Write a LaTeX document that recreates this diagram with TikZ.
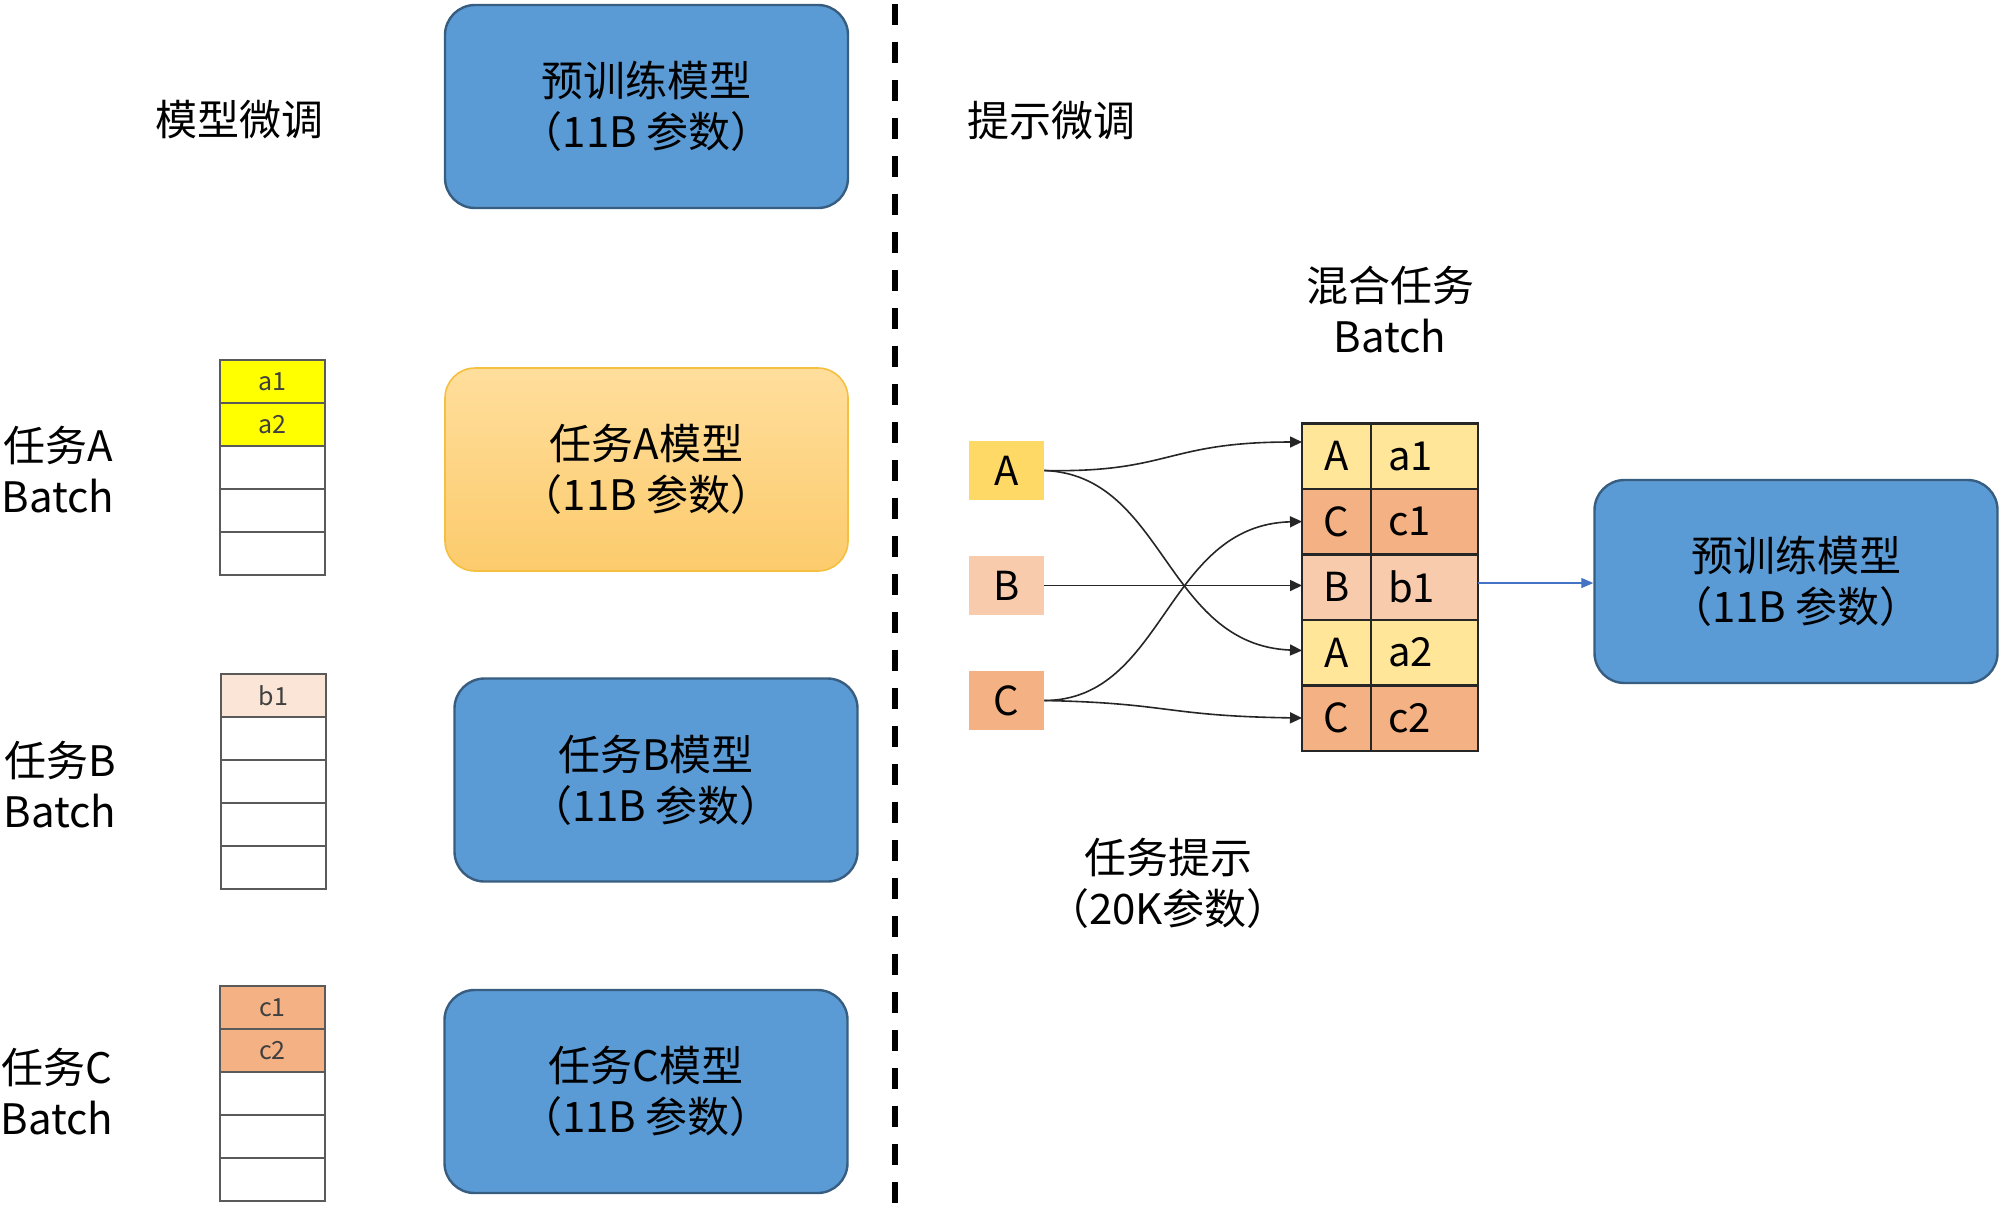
\documentclass[tikz,border=0pt]{standalone}
\usepackage{fontspec}
\setmainfont{Noto Sans CJK SC}
\usetikzlibrary{arrows.meta,calc}
\definecolor{boxblue}{HTML}{5B9BD5}
\definecolor{orgtop}{HTML}{FFDE9C}
\definecolor{orgbot}{HTML}{FCCB6C}
\definecolor{orgedge}{HTML}{F5C040}
\definecolor{cellgray}{HTML}{5A5A5A}
\definecolor{yel}{HTML}{FFFF00}
\definecolor{bpale}{HTML}{FBE5D6}
\definecolor{corange}{HTML}{F4B183}
\definecolor{apgold}{HTML}{FFD966}
\definecolor{bpeach}{HTML}{F8CBAD}
\definecolor{alight}{HTML}{FFE699}
\definecolor{tabedge}{HTML}{262626}
\definecolor{arrblue}{HTML}{4472C4}
\begin{document}
\begin{tikzpicture}[x=0.5pt,y=-0.5pt,
  bigfont/.style={font=\fontsize{21pt}{25.5pt}\selectfont},
  bigbox/.style={rectangle,rounded corners=15pt,minimum width=201.5pt,minimum height=101.5pt,align=center,bigfont,inner sep=0pt},
  bluebox/.style={bigbox,draw=boxblue!60!black,line width=1.2pt,fill=boxblue},
  orangebox/.style={bigbox,draw=orgedge,line width=0.8pt,top color=orgtop,bottom color=orgbot},
  lab/.style={align=center,bigfont,inner sep=0pt},
  cell/.style={rectangle,draw=cellgray,line width=1pt,minimum width=52.5pt,minimum height=21.5pt,inner sep=0pt,text=black!75,font=\fontsize{12.5pt}{14pt}\selectfont},
  pbox/.style={rectangle,minimum width=37.5pt,minimum height=29.5pt,inner sep=0pt,font=\fontsize{20pt}{24pt}\selectfont},
  tl/.style={rectangle,draw=tabedge,line width=1.25pt,outer sep=0pt,minimum width=34.5pt,minimum height=32.75pt,inner sep=0pt,font=\fontsize{20pt}{24pt}\selectfont},
  tr/.style={rectangle,draw=tabedge,line width=1.25pt,outer sep=0pt,text width=36.5pt,inner xsep=8.5pt,inner ysep=0pt,align=left,minimum height=32.75pt,font=\fontsize{20pt}{24pt}\selectfont},
  conn/.style={draw=black!85,line width=0.8pt,-{Triangle[length=6pt,width=5.5pt]}},
  bconn/.style={draw=arrblue,line width=0.6pt,-{Triangle[length=6pt,width=5pt]}}
]
\useasboundingbox (0,0) rectangle (2000,1207);

% dashed separator
\coordinate (dtop) at (895,4);
\coordinate (dbot) at (895,1207);
\draw[line width=3pt,dash pattern=on 10.5pt off 8.5pt] (dtop) -- (dbot);

% headings
\node[lab] (hleft) at (239,120) {模型微调};
\node[lab] (hright) at (1051,121) {提示微调};

% left big boxes
\node[bluebox] (pre1) at (646.5,106.5) {预训练模型\\（11B 参数）};
\node[orangebox] (mA) at (646.5,469.5) {任务A模型\\（11B 参数）};
\node[bluebox] (mB) at (656,780) {任务B模型\\（11B 参数）};
\node[bluebox] (mC) at (646,1091.5) {任务C模型\\（11B 参数）};

% left labels
\node[lab] (lA) at (58,470) {任务A\\Batch};
\node[lab] (lB) at (60,785) {任务B\\Batch};
\node[lab] (lC) at (57,1092) {任务C\\Batch};

% batch A
\node[cell,fill=yel] (cA1) at (272.5,381.5) {a1};
\node[cell,fill=yel] (cA2) at (272.5,424.5) {a2};
\node[cell] (cA3) at (272.5,467.5) {};
\node[cell] (cA4) at (272.5,510.5) {};
\node[cell] (cA5) at (272.5,553.5) {};
% batch B
\node[cell,fill=bpale] (cB1) at (273.5,695.5) {b1};
\node[cell] (cB2) at (273.5,738.5) {};
\node[cell] (cB3) at (273.5,781.5) {};
\node[cell] (cB4) at (273.5,824.5) {};
\node[cell] (cB5) at (273.5,867.5) {};
% batch C
\node[cell,fill=corange] (cC1) at (272.5,1007.5) {c1};
\node[cell,fill=corange] (cC2) at (272.5,1050.5) {c2};
\node[cell] (cC3) at (272.5,1093.5) {};
\node[cell] (cC4) at (272.5,1136.5) {};
\node[cell] (cC5) at (272.5,1179.5) {};

% prompt boxes
\node[pbox,fill=apgold] (pA) at (1006.5,470.5) {A};
\node[pbox,fill=bpeach] (pB) at (1006.5,585.5) {B};
\node[pbox,fill=corange] (pC) at (1006.5,700.5) {C};

% mixed table
\node[lab] (hmix) at (1390,310) {混合任务\\Batch};
\node[tl,fill=alight] (r1a) at (1336.5,456) {A};
\node[tr,fill=alight,anchor=west] (r1b) at (r1a.east) {a1};
\node[tl,fill=corange] (r2a) at (1336.5,521.5) {C};
\node[tr,fill=corange,anchor=west] (r2b) at (r2a.east) {c1};
\node[tl,fill=bpeach] (r3a) at (1336.5,587) {B};
\node[tr,fill=bpeach,anchor=west] (r3b) at (r3a.east) {b1};
\node[tl,fill=alight] (r4a) at (1336.5,652.5) {A};
\node[tr,fill=alight,anchor=west] (r4b) at (r4a.east) {a2};
\node[tl,fill=corange] (r5a) at (1336.5,718) {C};
\node[tr,fill=corange,anchor=west] (r5b) at (r5a.east) {c2};

\node[lab] (hprompt) at (1168,883) {任务提示\\（20K参数）};

% right pretrained box
\node[bluebox] (pre2) at (1796,581.5) {预训练模型\\（11B 参数）};

% connectors
\draw[conn] (pA.east) .. controls (1170,473) and (1165,442) .. ([yshift=7pt]r1a.west);
\draw[conn] (pA.east) .. controls (1165,475) and (1165,645) .. ([yshift=1pt]r4a.west);
\draw[conn] (pB.east) -- (pB.east -| r3a.west);
\draw[conn] (pC.east) .. controls (1165,700) and (1165,525) .. (r2a.west);
\draw[conn] (pC.east) .. controls (1170,703) and (1165,716) .. (r5a.west);
\draw[bconn] ([yshift=2pt]r3b.east) -- ([yshift=2pt]r3b.east -| pre2.west);
\end{tikzpicture}
\end{document}
